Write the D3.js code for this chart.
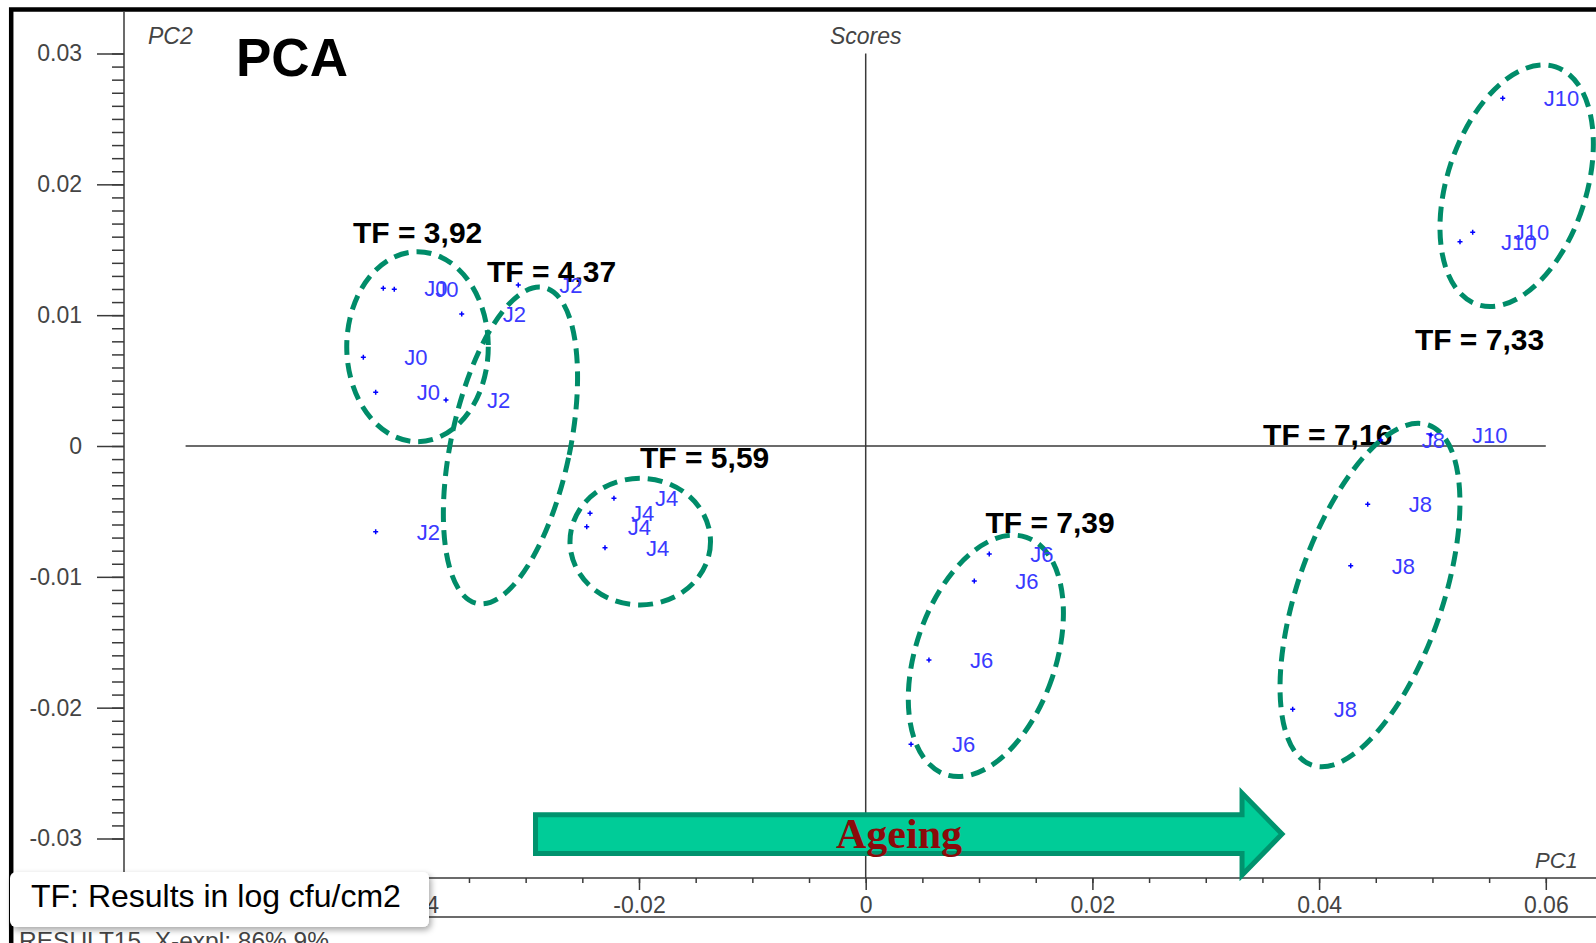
<!DOCTYPE html>
<html>
<head>
<meta charset="utf-8">
<script src="https://cdn.jsdelivr.net/npm/d3@7"></script>
<style>
  body { margin: 0; background: #fff; }
  svg { font-family: "Liberation Sans", Arial, sans-serif; }
</style>
</head>
<body>
<script>
  // PCA scores
  var j0 = [[-0.04256, 0.01205], [-0.04159, 0.01198], [-0.04432, 0.00678], [-0.04323, 0.00410]];
  var j2 = [[-0.03564, 0.01009], [-0.03703, 0.00352], [-0.03065, 0.01231], [-0.04323, -0.00655]];
  var j4 = [[-0.02221, -0.00400], [-0.02432, -0.00514], [-0.02461, -0.00617], [-0.02300, -0.00777]];
  var j6 = [[0.01090, -0.00826], [0.00958, -0.01032], [0.00558, -0.01636], [0.00400, -0.02280]];
  var j8 = [[0.04543, 0.00046], [0.04429, -0.00446], [0.04279, -0.00915], [0.03767, -0.02013]];
  var j10 = [[0.05620, 0.02658], [0.05355, 0.01633], [0.05243, 0.01562], [0.04987, 0.00084]];

  var groups = ["J0", "J2", "J4", "J6", "J8", "J10"];
  var groupPoints = [j0, j2, j4, j6, j8, j10];

  var xTicks = [-0.06, -0.04, -0.02, 0, 0.02, 0.04, 0.06];
  var yTicks = [-0.03, -0.02, -0.01, 0, 0.01, 0.02, 0.03];

  // TF annotations: text, x, y (data units, baseline start)
  var tfText = ["TF = 3,92", "TF = 4,37", "TF = 5,59", "TF = 7,39", "TF = 7,16", "TF = 7,33"];
  var tfX = [-0.04523, -0.03341, -0.01991, 0.01057, 0.03506, 0.04845];
  var tfY = [0.01552, 0.01254, -0.00168, -0.00665, 0.00008, 0.00734];

  // cluster ellipses: centre, semi-axes (y units) and tilt in degrees
  var ellCx = [-0.03954, -0.03134, -0.01989, 0.01060, 0.04449, 0.05743];
  var ellCy = [0.00759, 0.00004, -0.00731, -0.01604, -0.01139, 0.01989];
  var ellRx = [0.00541, 0.00454, 0.00537, 0.00534, 0.00554, 0.00531];
  var ellRy = [0.00726, 0.01234, 0.00484, 0.00958, 0.01374, 0.00956];
  var ellAngle = [0, 12, 0, 18.9, 18.9, 18.2];

  var arrowFrom = -0.02913, arrowTo = 0.03673, arrowY = -0.02966;

  var W = 1596, H = 943;
  var xScale = d3.scaleLinear().domain([-0.06, 0.06]).range([185.6, 1545.8]);
  var yScale = d3.scaleLinear().domain([-0.03, 0.03]).range([838.5, 53.5]);
  var yUnit = function(v) { return Math.abs(yScale(v) - yScale(0)); };
  var fmt = function(d) { return Math.abs(d) < 1e-9 ? "0" : d.toFixed(2); };

  var svg = d3.select("body").append("svg")
    .attr("width", W)
    .attr("height", H);

  var defs = svg.append("defs");
  var shadow = defs.append("filter").attr("id", "shadow")
    .attr("x", "-10%").attr("y", "-30%").attr("width", "130%").attr("height", "180%");
  shadow.append("feDropShadow")
    .attr("dx", 2).attr("dy", 3).attr("stdDeviation", 3)
    .attr("flood-color", "#000").attr("flood-opacity", 0.35);

  // outer frame
  svg.append("rect")
    .attr("x", 11.2).attr("y", 9.5)
    .attr("width", 1800).attr("height", 1000)
    .attr("fill", "none").attr("stroke", "#000").attr("stroke-width", 4.5);

  var axisCol = "#3a3a3a";

  // bottom line of plot box
  svg.append("line")
    .attr("x1", 13).attr("x2", W).attr("y1", 917).attr("y2", 917)
    .attr("stroke", axisCol).attr("stroke-width", 1.5);

  // y axis
  var yAxisX = 124, xAxisY = 878;
  svg.append("line")
    .attr("x1", yAxisX).attr("x2", yAxisX).attr("y1", 12).attr("y2", xAxisY)
    .attr("stroke", axisCol).attr("stroke-width", 1.5);

  var yMinor = svg.append("g").attr("transform", "translate(" + yAxisX + ",0)")
    .call(d3.axisLeft(yScale).tickValues(d3.range(-30, 31).map(function(i) { return i / 1000; }))
      .tickSize(12).tickFormat(""));
  var yMajor = svg.append("g").attr("transform", "translate(" + yAxisX + ",0)")
    .call(d3.axisLeft(yScale).tickValues(yTicks).tickSize(27).tickPadding(15).tickFormat(fmt));

  // x axis
  svg.append("line")
    .attr("x1", yAxisX).attr("x2", W).attr("y1", xAxisY).attr("y2", xAxisY)
    .attr("stroke", axisCol).attr("stroke-width", 1.5);

  var xMinor = svg.append("g").attr("transform", "translate(0," + xAxisY + ")")
    .call(d3.axisBottom(xScale).tickValues(d3.range(-13, 14).map(function(i) { return i * 0.005; }))
      .tickSize(5).tickFormat(""));
  var xMajor = svg.append("g").attr("transform", "translate(0," + xAxisY + ")")
    .call(d3.axisBottom(xScale).tickValues(xTicks).tickSize(12).tickPadding(7).tickFormat(fmt));

  [yMinor, yMajor, xMinor, xMajor].forEach(function(g) {
    g.select(".domain").remove();
    g.selectAll(".tick line").attr("stroke", axisCol).attr("stroke-width", 1.5);
    g.selectAll(".tick text")
      .attr("font-family", "Liberation Sans, Arial, sans-serif")
      .attr("font-size", 23)
      .attr("fill", "#444");
  });

  // zero lines
  svg.append("line")
    .attr("x1", xScale(-0.06)).attr("x2", xScale(0.06))
    .attr("y1", yScale(0)).attr("y2", yScale(0))
    .attr("stroke", axisCol).attr("stroke-width", 1.5);
  svg.append("line")
    .attr("x1", xScale(0)).attr("x2", xScale(0))
    .attr("y1", yScale(0.03)).attr("y2", xAxisY)
    .attr("stroke", axisCol).attr("stroke-width", 1.5);

  // axis titles
  svg.append("text").text("Scores")
    .attr("x", xScale(0)).attr("y", 44)
    .attr("text-anchor", "middle").attr("font-style", "italic")
    .attr("font-size", 23).attr("fill", "#444");
  svg.append("text").text("PC2")
    .attr("x", 148).attr("y", 44)
    .attr("font-style", "italic").attr("font-size", 23).attr("fill", "#444");
  svg.append("text").text("PC1")
    .attr("x", 1535).attr("y", 868)
    .attr("font-style", "italic").attr("font-size", 22).attr("fill", "#444");

  // TF labels
  svg.selectAll("text.tf")
    .data(tfText)
    .enter()
    .append("text")
    .attr("class", "tf")
    .attr("x", function(d, i) { return xScale(tfX[i]); })
    .attr("y", function(d, i) { return yScale(tfY[i]); })
    .attr("font-size", 30)
    .attr("font-weight", "bold")
    .attr("fill", "#000")
    .text(function(d) { return d; });

  // cluster ellipses
  svg.selectAll("ellipse.cl")
    .data(ellCx)
    .enter()
    .append("ellipse")
    .attr("class", "cl")
    .attr("rx", function(d, i) { return yUnit(ellRx[i]); })
    .attr("ry", function(d, i) { return yUnit(ellRy[i]); })
    .attr("transform", function(d, i) {
      return "translate(" + xScale(d) + "," + yScale(ellCy[i]) + ") rotate(" + ellAngle[i] + ")";
    })
    .attr("fill", "none")
    .attr("stroke", "#008c69")
    .attr("stroke-width", 5)
    .attr("stroke-dasharray", "15,8");

  // points and their labels
  var pts = [];
  groupPoints.forEach(function(arr, gi) {
    arr.forEach(function(p) { pts.push({ name: groups[gi], x: p[0], y: p[1] }); });
  });

  var pg = svg.selectAll("g.pt")
    .data(pts)
    .enter()
    .append("g")
    .attr("class", "pt")
    .attr("transform", function(d) { return "translate(" + xScale(d.x) + "," + yScale(d.y) + ")"; });
  pg.append("path")
    .attr("d", "M-2.5,0H2.5M0,-2.5V2.5")
    .attr("stroke", "#0000ff")
    .attr("stroke-width", 1.5);
  pg.append("text")
    .attr("x", 41)
    .attr("dy", "0.36em")
    .attr("font-size", 22)
    .attr("fill", "#3a3aff")
    .text(function(d) { return d.name; });

  // Ageing arrow
  var ax0 = xScale(arrowFrom), ax1 = xScale(arrowTo), ay = yScale(arrowY);
  var headLen = 40, bodyH = 19.4, headH = 41;
  svg.append("path")
    .attr("d", "M" + ax0 + "," + (ay - bodyH) +
      "L" + (ax1 - headLen) + "," + (ay - bodyH) +
      "L" + (ax1 - headLen) + "," + (ay - headH) +
      "L" + ax1 + "," + ay +
      "L" + (ax1 - headLen) + "," + (ay + headH) +
      "L" + (ax1 - headLen) + "," + (ay + bodyH) +
      "L" + ax0 + "," + (ay + bodyH) + "Z")
    .attr("fill", "#00cc98")
    .attr("stroke", "#00936e")
    .attr("stroke-width", 5);
  svg.append("text").text("Ageing")
    .attr("x", 836).attr("y", 848)
    .style("font-family", "'Liberation Serif', 'Times New Roman', serif")
    .attr("font-weight", "bold")
    .attr("font-size", 42)
    .attr("fill", "#8b0a0a");

  // title
  svg.append("text").text("PCA")
    .attr("x", 236).attr("y", 76)
    .attr("font-size", 53)
    .attr("font-weight", "bold")
    .attr("fill", "#000");

  // footer text
  svg.append("text").text("RESULT15, X-expl: 86%,9%")
    .attr("x", 19).attr("y", 949)
    .attr("font-size", 24.5).attr("fill", "#444");

  // legend note
  svg.append("rect")
    .attr("x", 10).attr("y", 872)
    .attr("width", 419).attr("height", 55)
    .attr("rx", 6)
    .attr("fill", "#fff")
    .attr("filter", "url(#shadow)");
  svg.append("text").text("TF: Results in log cfu/cm2")
    .attr("x", 31).attr("y", 907)
    .attr("font-size", 32)
    .attr("fill", "#000");
</script>
</body>
</html>
